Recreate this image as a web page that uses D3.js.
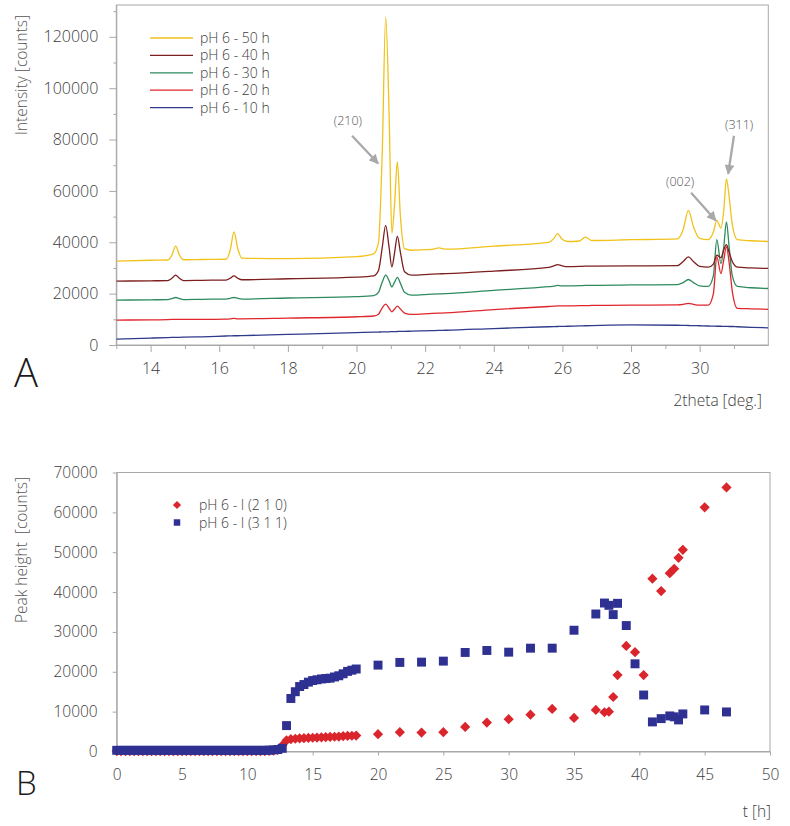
<!DOCTYPE html>
<html><head><meta charset="utf-8">
<script src="https://cdn.jsdelivr.net/npm/d3@7"></script>
<style>
body{margin:0;background:#fff;}
svg text{font-family:"Open Sans","Noto Sans",sans-serif;}
</style></head><body>
<svg id="chart" width="790" height="826"></svg>
<script>
// ---------- Panel A data (XRD patterns) ----------
const twoTheta = [13.0,14.0,14.5,14.62,14.73,14.84,14.96,15.5,16.2,16.32,16.43,16.54,16.66,18.0,20.0,20.5,20.64,20.75,20.85,20.95,21.03,21.11,21.19,21.28,21.4,21.6,22.2,22.4,22.6,24.0,25.6,25.75,25.86,25.97,26.15,26.5,26.67,26.85,28.0,29.35,29.52,29.67,29.82,30.0,30.25,30.4,30.5,30.62,30.7,30.78,30.86,30.95,31.1,31.5,32.0];
const int50h = [32700,33000,33100,35000,38500,35000,33200,33300,33400,37000,44000,37500,33800,33600,34400,35500,40000,75000,127700,90000,43500,55000,71400,50000,37500,36900,37200,37800,37300,38500,40000,41500,43400,41500,40300,40500,42000,40700,41000,41300,45000,52400,46000,41500,41000,44000,48500,45500,52000,64700,57600,47000,41000,40600,40300];
const int40h = [24900,25000,25100,26000,27200,26000,25100,25200,25300,26000,26900,26000,25400,25800,26400,26900,29000,38000,46600,38000,30400,36000,42400,36000,28500,27200,27600,27700,27800,28800,30200,30800,31300,30900,30500,30600,30700,30700,30800,30900,32500,34300,32500,30600,30300,31500,35000,34000,37000,39100,36000,32500,30300,30000,29800];
const int30h = [17500,17600,17700,18100,18500,18100,17700,17800,17900,18200,18500,18200,17900,18300,18800,19200,20500,24500,27200,25000,22600,24500,26300,24000,20500,19400,19800,19900,20000,21300,22700,22900,23200,23000,23000,23100,23200,23200,23400,23500,24300,25500,24300,23000,22800,27000,41000,31700,38000,47900,38000,27000,22800,22300,22000];
const int20h = [9700,9800,9900,9950,10000,9950,9950,10000,10100,10200,10400,10200,10200,10500,11000,11300,12000,14500,15900,14300,12900,14000,15100,14000,12400,11900,12300,12400,12500,13800,15000,15100,15200,15200,15200,15300,15300,15400,15500,15600,15800,16200,15800,15500,15500,20000,34300,27800,33000,38200,32000,21000,14300,14100,13900];
const int10h = [2300,2700,2900,2950,3000,3000,3050,3200,3500,3550,3600,3600,3650,4100,4800,5000,5050,5100,5100,5150,5200,5200,5250,5300,5300,5400,5600,5700,5750,6400,7100,7150,7200,7250,7300,7450,7500,7550,7800,7700,7650,7600,7550,7500,7400,7350,7300,7300,7250,7250,7200,7200,7100,6900,6700];
const patternNames = ["pH 6 - 50 h","pH 6 - 40 h","pH 6 - 30 h","pH 6 - 20 h","pH 6 - 10 h"];
const patternColors = ["#f0c21b","#7d1f1f","#2e8b5e","#e0262c","#2e3a8a"];
const xTicksA = [14,16,18,20,22,24,26,28,30];
const xMinorA = [13,15,17,19,21,23,25,27,29,31];
const yTicksA = [0,20000,40000,60000,80000,100000,120000];
const yMinorA = [10000,30000,50000,70000,90000,110000,130000];
const peakLabels = ["(210)","(002)","(311)"];
const peakTextPos = [[19.75,87400],[29.43,63700],[31.15,85800]];
const peakArrowFrom = [[19.87,81500],[29.75,59300],[31.0,81500]];
const peakArrowTo = [[20.63,70700],[30.47,48500],[30.83,66700]];

// ---------- Panel B data (peak heights vs time) ----------
const hours = [0,0.33,0.67,1,1.33,1.67,2,2.33,2.67,3,3.33,3.67,4,4.33,4.67,5,5.33,5.67,6,6.33,6.67,7,7.33,7.67,8,8.33,8.67,9,9.33,9.67,10,10.33,10.67,11,11.33,11.67,12,12.33,12.67,
  13,13.33,13.67,14,14.33,14.67,15,15.33,15.67,16,16.33,16.67,17,17.33,17.67,18,18.33,
  20,21.67,23.33,25,26.67,28.33,30,31.67,33.33,35,36.67,37.33,37.67,38,38.33,39,39.67,40.33,41,41.67,42.33,42.67,43,43.33,45,46.67];
const peak210 = [100,100,100,100,100,100,100,100,100,100,100,100,100,100,100,100,100,100,100,100,100,100,100,100,100,100,100,100,100,100,100,100,100,100,100,150,200,400,1500,
  2800,3100,3200,3300,3350,3400,3450,3500,3550,3600,3650,3700,3750,3850,3900,3950,4000,
  4350,4850,4750,4850,6175,7250,8100,9250,10675,8425,10425,9850,10000,13675,19175,26500,24925,19175,43350,40250,44750,45850,48600,50600,61250,66250];
const peak311 = [300,300,300,300,300,300,300,300,300,300,300,300,300,300,300,300,300,300,300,300,300,300,300,300,300,300,300,300,300,300,300,300,300,300,300,350,400,500,800,
  6500,13300,15000,16300,16800,17400,17800,18000,18200,18300,18400,18700,19000,19500,20100,20400,20700,
  21675,22350,22425,22675,24850,25350,24925,25925,25925,30425,34500,37250,36675,34350,37175,31600,22000,14175,7425,8250,8925,8700,7925,9425,10425,9925];
const peakSeriesNames = ["pH 6 - I (2 1 0)","pH 6 - I (3 1 1)"];
const peakSeriesColors = ["#d9252b","#2e3192"];
const xTicksB = [0,5,10,15,20,25,30,35,40,45,50];
const yTicksB = [0,10000,20000,30000,40000,50000,60000,70000];

// ---------- drawing ----------
const svg = d3.select("#chart");
const frameColor = "#a8a8a8";
const labelColor = "#3c3c3c";

function styleAxis(g, fs){
  g.select(".domain").attr("stroke", frameColor);
  g.selectAll(".tick line").attr("stroke", frameColor);
  g.selectAll(".tick text").attr("fill", labelColor).style("font-size", fs+"px").style("font-weight","300");
}

// ===== Panel A =====
const xA = d3.scaleLinear().domain([13,32]).range([116.3,768.3]);
const yA = d3.scaleLinear().domain([0,132400]).range([345,5]);
const gA = svg.append("g");
gA.append("rect").attr("x",xA(13)).attr("y",yA(132400)).attr("width",xA(32)-xA(13)).attr("height",yA(0)-yA(132400))
  .attr("fill","none").attr("stroke",frameColor);

gA.append("g").attr("transform",`translate(0,${yA(0)})`)
  .call(d3.axisBottom(xA).tickValues(xMinorA).tickSize(4).tickFormat(""))
  .call(g=>{g.select(".domain").remove(); g.selectAll(".tick line").attr("stroke",frameColor);});
gA.append("g").attr("transform",`translate(0,${yA(0)})`)
  .call(d3.axisBottom(xA).tickValues(xTicksA).tickSize(7).tickSizeOuter(0).tickPadding(11).tickFormat(d3.format("d")))
  .call(g=>styleAxis(g,16));
gA.append("g").attr("transform",`translate(${xA(13)},0)`)
  .call(d3.axisLeft(yA).tickValues(yMinorA).tickSize(3).tickFormat(""))
  .call(g=>{g.select(".domain").remove(); g.selectAll(".tick line").attr("stroke",frameColor);});
gA.append("g").attr("transform",`translate(${xA(13)},0)`)
  .call(d3.axisLeft(yA).tickValues(yTicksA).tickSize(7).tickSizeOuter(0).tickPadding(11).tickFormat(d3.format("d")))
  .call(g=>styleAxis(g,16));

const patterns = [int50h,int40h,int30h,int20h,int10h];
const lineA = d3.line().x(d=>xA(d[0])).y(d=>yA(d[1])).curve(d3.curveMonotoneX);
svg.append("clipPath").attr("id","clipA").append("rect")
  .attr("x",xA(13)).attr("y",yA(132400)).attr("width",xA(32)-xA(13)).attr("height",yA(0)-yA(132400));
const linesG = gA.append("g").attr("clip-path","url(#clipA)");
[4,3,2,1,0].forEach(i=>{
  const pts = twoTheta.map((t,j)=>[t,patterns[i][j]]);
  linesG.append("path").attr("d",lineA(pts)).attr("fill","none")
    .attr("stroke",patternColors[i]).attr("stroke-width",1.3).attr("stroke-linejoin","round");
});

// legend A
const legA = gA.append("g");
patternNames.forEach((n,i)=>{
  const y = 38 + i*17.4;
  legA.append("line").attr("x1",150).attr("x2",193).attr("y1",y).attr("y2",y)
    .attr("stroke",patternColors[i]).attr("stroke-width",1.3);
  legA.append("text").attr("x",200).attr("y",y+5).text(n)
    .attr("fill",labelColor).style("font-size","14px").style("font-weight","300");
});

// annotations
const defs = svg.append("defs");
defs.append("marker").attr("id","arrowHead").attr("viewBox","0 0 10 10").attr("refX",9).attr("refY",5)
  .attr("markerWidth",4.6).attr("markerHeight",4.2).attr("orient","auto").attr("markerUnits","strokeWidth")
  .append("path").attr("d","M0,0 L10,5 L0,10 Z").attr("fill","#a9a9a9");
peakLabels.forEach((lab,i)=>{
  gA.append("line")
    .attr("x1",xA(peakArrowFrom[i][0])).attr("y1",yA(peakArrowFrom[i][1]))
    .attr("x2",xA(peakArrowTo[i][0])).attr("y2",yA(peakArrowTo[i][1]))
    .attr("stroke","#a9a9a9").attr("stroke-width",2.3).attr("marker-end","url(#arrowHead)");
  gA.append("text").attr("x",xA(peakTextPos[i][0])).attr("y",yA(peakTextPos[i][1])+4.5)
    .attr("text-anchor","middle").text(lab).attr("fill","#555").style("font-size","12.5px").style("font-weight","300");
});

gA.append("text").attr("transform",`translate(27,75) rotate(-90)`).attr("text-anchor","middle")
  .text("Intensity [counts]").attr("fill","#555").style("font-size","15.5px").style("font-weight","300");
gA.append("text").attr("x",762).attr("y",406).attr("text-anchor","end")
  .text("2theta [deg.]").attr("fill",labelColor).style("font-size","15.5px").style("font-weight","300");
gA.append("text").attr("x",14).attr("y",387).text("A").attr("fill","#1a1a1a")
  .style("font-size","40px").style("font-weight","300");

// ===== Panel B =====
const xB = d3.scaleLinear().domain([0,50]).range([116.7,770]);
const yB = d3.scaleLinear().domain([0,70000]).range([751.5,472.5]);
const gB = svg.append("g");
gB.append("rect").attr("x",xB(0)).attr("y",yB(70000)).attr("width",xB(50)-xB(0)).attr("height",yB(0)-yB(70000))
  .attr("fill","none").attr("stroke",frameColor);
gB.append("g").attr("transform",`translate(0,${yB(0)})`)
  .call(d3.axisBottom(xB).tickValues(xTicksB).tickSize(4).tickSizeOuter(0).tickPadding(13).tickFormat(d3.format("d")))
  .call(g=>styleAxis(g,15.5));
gB.append("g").attr("transform",`translate(${xB(0)},0)`)
  .call(d3.axisLeft(yB).tickValues(yTicksB).tickSize(4).tickSizeOuter(0).tickPadding(15).tickFormat(d3.format("d")))
  .call(g=>styleAxis(g,15.5));

const diamond = d3.symbol().type(d3.symbolSquare).size(52)();
const square = d3.symbol().type(d3.symbolSquare).size(80)();
const ptsG = gB.append("g");
ptsG.selectAll(".p210").data(hours.map((t,i)=>[t,peak210[i]])).join("path")
  .attr("d",diamond).attr("fill",peakSeriesColors[0])
  .attr("transform",d=>`translate(${xB(d[0])},${yB(d[1])}) rotate(45)`);
ptsG.selectAll(".p311").data(hours.map((t,i)=>[t,peak311[i]])).join("path")
  .attr("d",square).attr("fill",peakSeriesColors[1])
  .attr("transform",d=>`translate(${xB(d[0])},${yB(d[1])})`);

// legend B
const legB = gB.append("g");
const legSyms = [d3.symbol().type(d3.symbolSquare).size(34)(), d3.symbol().type(d3.symbolSquare).size(42)()];
peakSeriesNames.forEach((n,i)=>{
  const y = 505 + i*17.5;
  legB.append("path").attr("d",legSyms[i]).attr("fill",peakSeriesColors[i])
    .attr("transform",`translate(177,${y}) ${i===0?"rotate(45)":""}`);
  legB.append("text").attr("x",199).attr("y",y+5).text(n)
    .attr("fill",labelColor).style("font-size","14px").style("font-weight","300");
});

gB.append("text").attr("transform",`translate(27,550) rotate(-90)`).attr("text-anchor","middle")
  .text("Peak height  [counts]").attr("fill","#555").style("font-size","15.5px").style("font-weight","300").style("white-space","pre");
gB.append("text").attr("x",771).attr("y",817).attr("text-anchor","end")
  .text("t [h]").attr("fill",labelColor).style("font-size","15.5px").style("font-weight","300");
gB.append("text").attr("x",16).attr("y",795).text("B").attr("fill","#1a1a1a")
  .style("font-size","33px").style("font-weight","300");
</script>
</body></html>
